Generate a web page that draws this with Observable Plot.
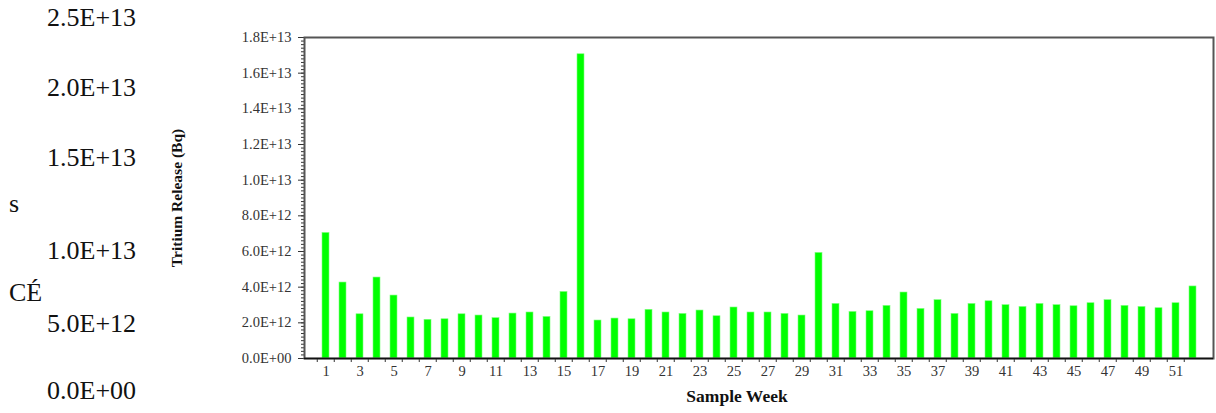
<!DOCTYPE html>
<html>
<head>
<meta charset="utf-8">
<script src="https://cdn.jsdelivr.net/npm/d3@7"></script>
<script src="https://cdn.jsdelivr.net/npm/@observablehq/plot@0.6"></script>
<style>
  html, body { margin: 0; padding: 0; background: #fff; }
  #wrap { position: relative; width: 1216px; height: 413px; overflow: hidden; }
  #wrap svg { position: absolute; left: 0; top: 0; }
  .stray { position: absolute; font-family: "Liberation Serif", serif; font-size: 26px; line-height: 26px; color: #111; white-space: nowrap; }
</style>
</head>
<body>
<div id="wrap"></div>
<script>
// ---- data ----
const weeks = [1,2,3,4,5,6,7,8,9,10,11,12,13,14,15,16,17,18,19,20,21,22,23,24,25,26,
               27,28,29,30,31,32,33,34,35,36,37,38,39,40,41,42,43,44,45,46,47,48,49,50,51,52];
const releaseE12 = [7.04,4.26,2.48,4.54,3.53,2.30,2.17,2.20,2.48,2.41,2.26,2.52,2.58,2.33,3.73,17.06,
                    2.13,2.24,2.20,2.73,2.58,2.50,2.69,2.37,2.86,2.58,2.58,2.50,2.41,5.92,3.06,2.61,
                    2.65,2.95,3.70,2.78,3.27,2.50,3.06,3.21,2.99,2.89,3.06,2.99,2.93,3.10,3.27,2.95,
                    2.89,2.82,3.10,4.04];
const xTickLabels = [1,3,5,7,9,11,13,15,17,19,21,23,25,27,29,31,33,35,37,39,41,43,45,47,49,51];
const yMajorTicks = [0,2e12,4e12,6e12,8e12,1e13,1.2e13,1.4e13,1.6e13,1.8e13];
const yMinorTicks = d3.range(0, 1.8e13 + 1, 2e11);
const strayLabels = ["2.5E+13","2.0E+13","1.5E+13","s","1.0E+13","CÉ","5.0E+12","0.0E+00"];
const strayPos = [[47,5],[47,75],[47,145],[9,191],[47,238],[9,280],[47,311],[47,378]];

const data = weeks.map((w, i) => ({week: w, value: releaseE12[i] * 1e12}));

function sci(d) {
  const [m, e] = d.toExponential(1).split("e");
  return m + "E" + e[0] + e.slice(1).padStart(2, "0");
}

const W = 1216, H = 413, ML = 304, MR = 3, MT = 37, MB = 55;
const step = (W - ML - MR) / weeks.length;
const serif = "Liberation Serif, Times New Roman, serif";

const chart = Plot.plot({
  width: W, height: H,
  marginLeft: ML, marginRight: MR, marginTop: MT, marginBottom: MB,
  style: {fontFamily: serif, fontSize: "14px", color: "#222", background: "transparent"},
  x: {type: "band", domain: weeks, paddingInner: 0.6, paddingOuter: 0.3, axis: null},
  y: {domain: [0, 1.8e13], axis: null},
  marks: [
    Plot.barY(data, {x: "week", y: "value", fill: "#00ff00", stroke: "#7dff7d", strokeWidth: 0.6}),
    Plot.axisY({ticks: yMinorTicks, tickSize: 3, tickFormat: () => "", stroke: "#333", label: null}),
    Plot.axisY({ticks: yMajorTicks, tickSize: 6, tickFormat: () => "", stroke: "#333", label: null}),
    Plot.text(yMajorTicks, {y: d => d, text: sci, frameAnchor: "left", dx: -13, textAnchor: "end",
      fontSize: 14.5, fill: "#333"}),
    Plot.axisX({ticks: weeks, tickSize: 4, tickFormat: () => "", dx: -step / 2, stroke: "#333", label: null}),
    Plot.text(xTickLabels, {x: d => d, text: d => String(d), frameAnchor: "bottom", dy: 17,
      fontSize: 14.5, fill: "#333"}),
    Plot.frame({stroke: "#555", strokeWidth: 2}),
    Plot.ruleY([0], {stroke: "#111", strokeWidth: 1.5}),
    Plot.text(["Tritium Release (Bq)"], {text: d => d, frameAnchor: "left", dx: -127, rotate: -90,
      textAnchor: "middle", fontWeight: "bold", fontSize: 15.5, fill: "#111"}),
    Plot.text(["Sample Week"], {text: d => d, frameAnchor: "bottom", dx: -22, dy: 43,
      fontWeight: "bold", fontSize: 17.5, fill: "#111"})
  ]
});

const wrap = document.getElementById("wrap");
wrap.appendChild(chart);
strayLabels.forEach((t, i) => {
  const s = document.createElement("div");
  s.className = "stray";
  s.textContent = t;
  s.style.left = strayPos[i][0] + "px";
  s.style.top = strayPos[i][1] + "px";
  wrap.appendChild(s);
});
</script>
</body>
</html>
